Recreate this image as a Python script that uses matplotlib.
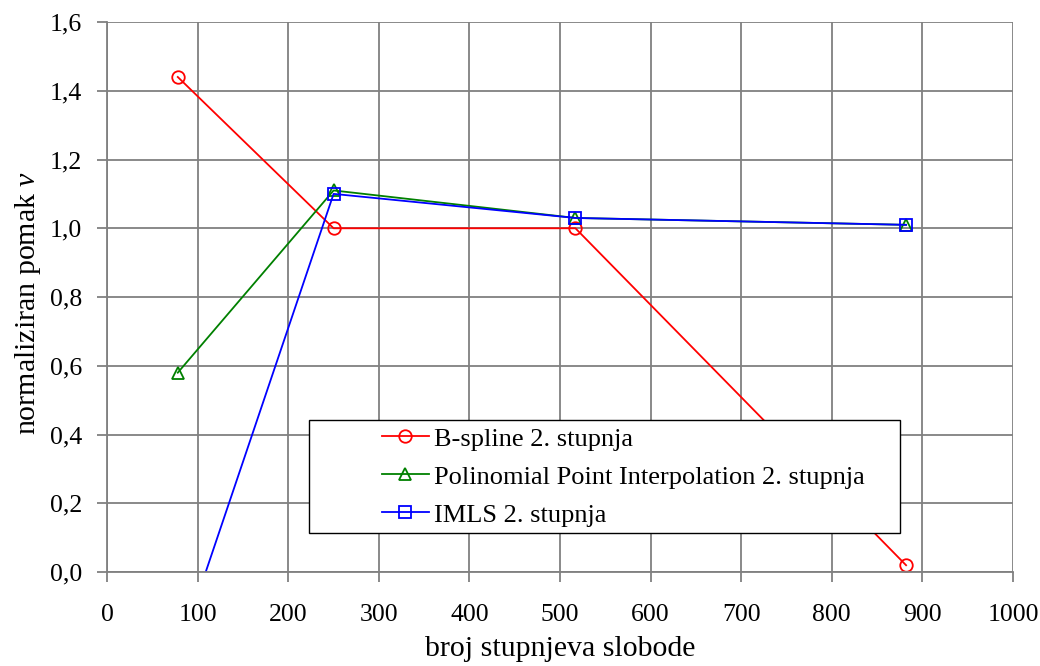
import numpy as np
import matplotlib
matplotlib.use("Agg")
import matplotlib.pyplot as plt
from matplotlib.ticker import FuncFormatter
from matplotlib.patches import Rectangle

plt.rcParams['font.family'] = ['Liberation Serif', 'DejaVu Serif']
plt.rcParams['mathtext.fontset'] = 'custom'
plt.rcParams['mathtext.it'] = 'Liberation Serif:italic'
plt.rcParams['mathtext.rm'] = 'Liberation Serif'

# data
dof = [78, 250, 517, 882]
bspline = [1.44, 1.00, 1.00, 0.02]
ppi = [0.58, 1.11, 1.03, 1.01]
imls = [-0.24, 1.10, 1.03, 1.01]

labels = ['B-spline 2. stupnja',
          'Polinomial Point Interpolation 2. stupnja',
          'IMLS 2. stupnja']

fig = plt.figure(figsize=(10.4, 6.66), dpi=100)
ax = fig.add_axes([0.103, 0.141, 0.871, 0.826])

ax.plot(dof, bspline, color='red', marker='o', markersize=9, mfc='none', mew=1.3, lw=1.3, label=labels[0])
ax.plot(dof, ppi, color='green', marker='^', markersize=9, mfc='none', mew=1.3, lw=1.3, label=labels[1])
ax.plot(dof, imls, color='blue', marker='s', markersize=9, mfc='none', mew=1.3, lw=1.3, label=labels[2])

ax.set_xlim(0, 1000)
ax.set_ylim(0, 1.6)
ax.set_xticks(np.arange(0, 1001, 100))
ax.set_yticks(np.arange(0, 1.61, 0.2))
ax.yaxis.set_major_formatter(FuncFormatter(lambda v, p: f"{v:.1f}".replace('.', ',')))
ax.grid(True, color='#808080', lw=1.3)
ax.set_axisbelow(True)
for s in ['top', 'right']:
    ax.spines[s].set_visible(False)
for s in ['left', 'bottom']:
    ax.spines[s].set_color('#808080')
    ax.spines[s].set_linewidth(1.3)
ax.tick_params(axis='both', labelsize=18.5, direction='out', length=7, color='#808080', width=1.3)
ax.tick_params(axis='x', pad=16)
ax.tick_params(axis='y', pad=11)

ax.set_xlabel('broj stupnjeva slobode', fontsize=21.5, va='top')
ax.xaxis.set_label_coords(0.5, -0.117)
ax.set_ylabel('normaliziran pomak $\\it{v}$', fontsize=21.5)
ax.yaxis.set_label_coords(-0.071, 0.49)

# legend box
ax.add_patch(Rectangle((0.223, 0.071), 0.652, 0.205, transform=ax.transAxes,
                       facecolor='white', edgecolor='black', lw=1.0, zorder=5))
leg = ax.legend(loc='center left', bbox_to_anchor=(0.303, 0.173),
                fontsize=19, frameon=False, handlelength=1.8, handletextpad=0.2,
                borderpad=0, borderaxespad=0, labelspacing=0.55)
leg.set_zorder(6)

fig.savefig('out.png', dpi=100)
